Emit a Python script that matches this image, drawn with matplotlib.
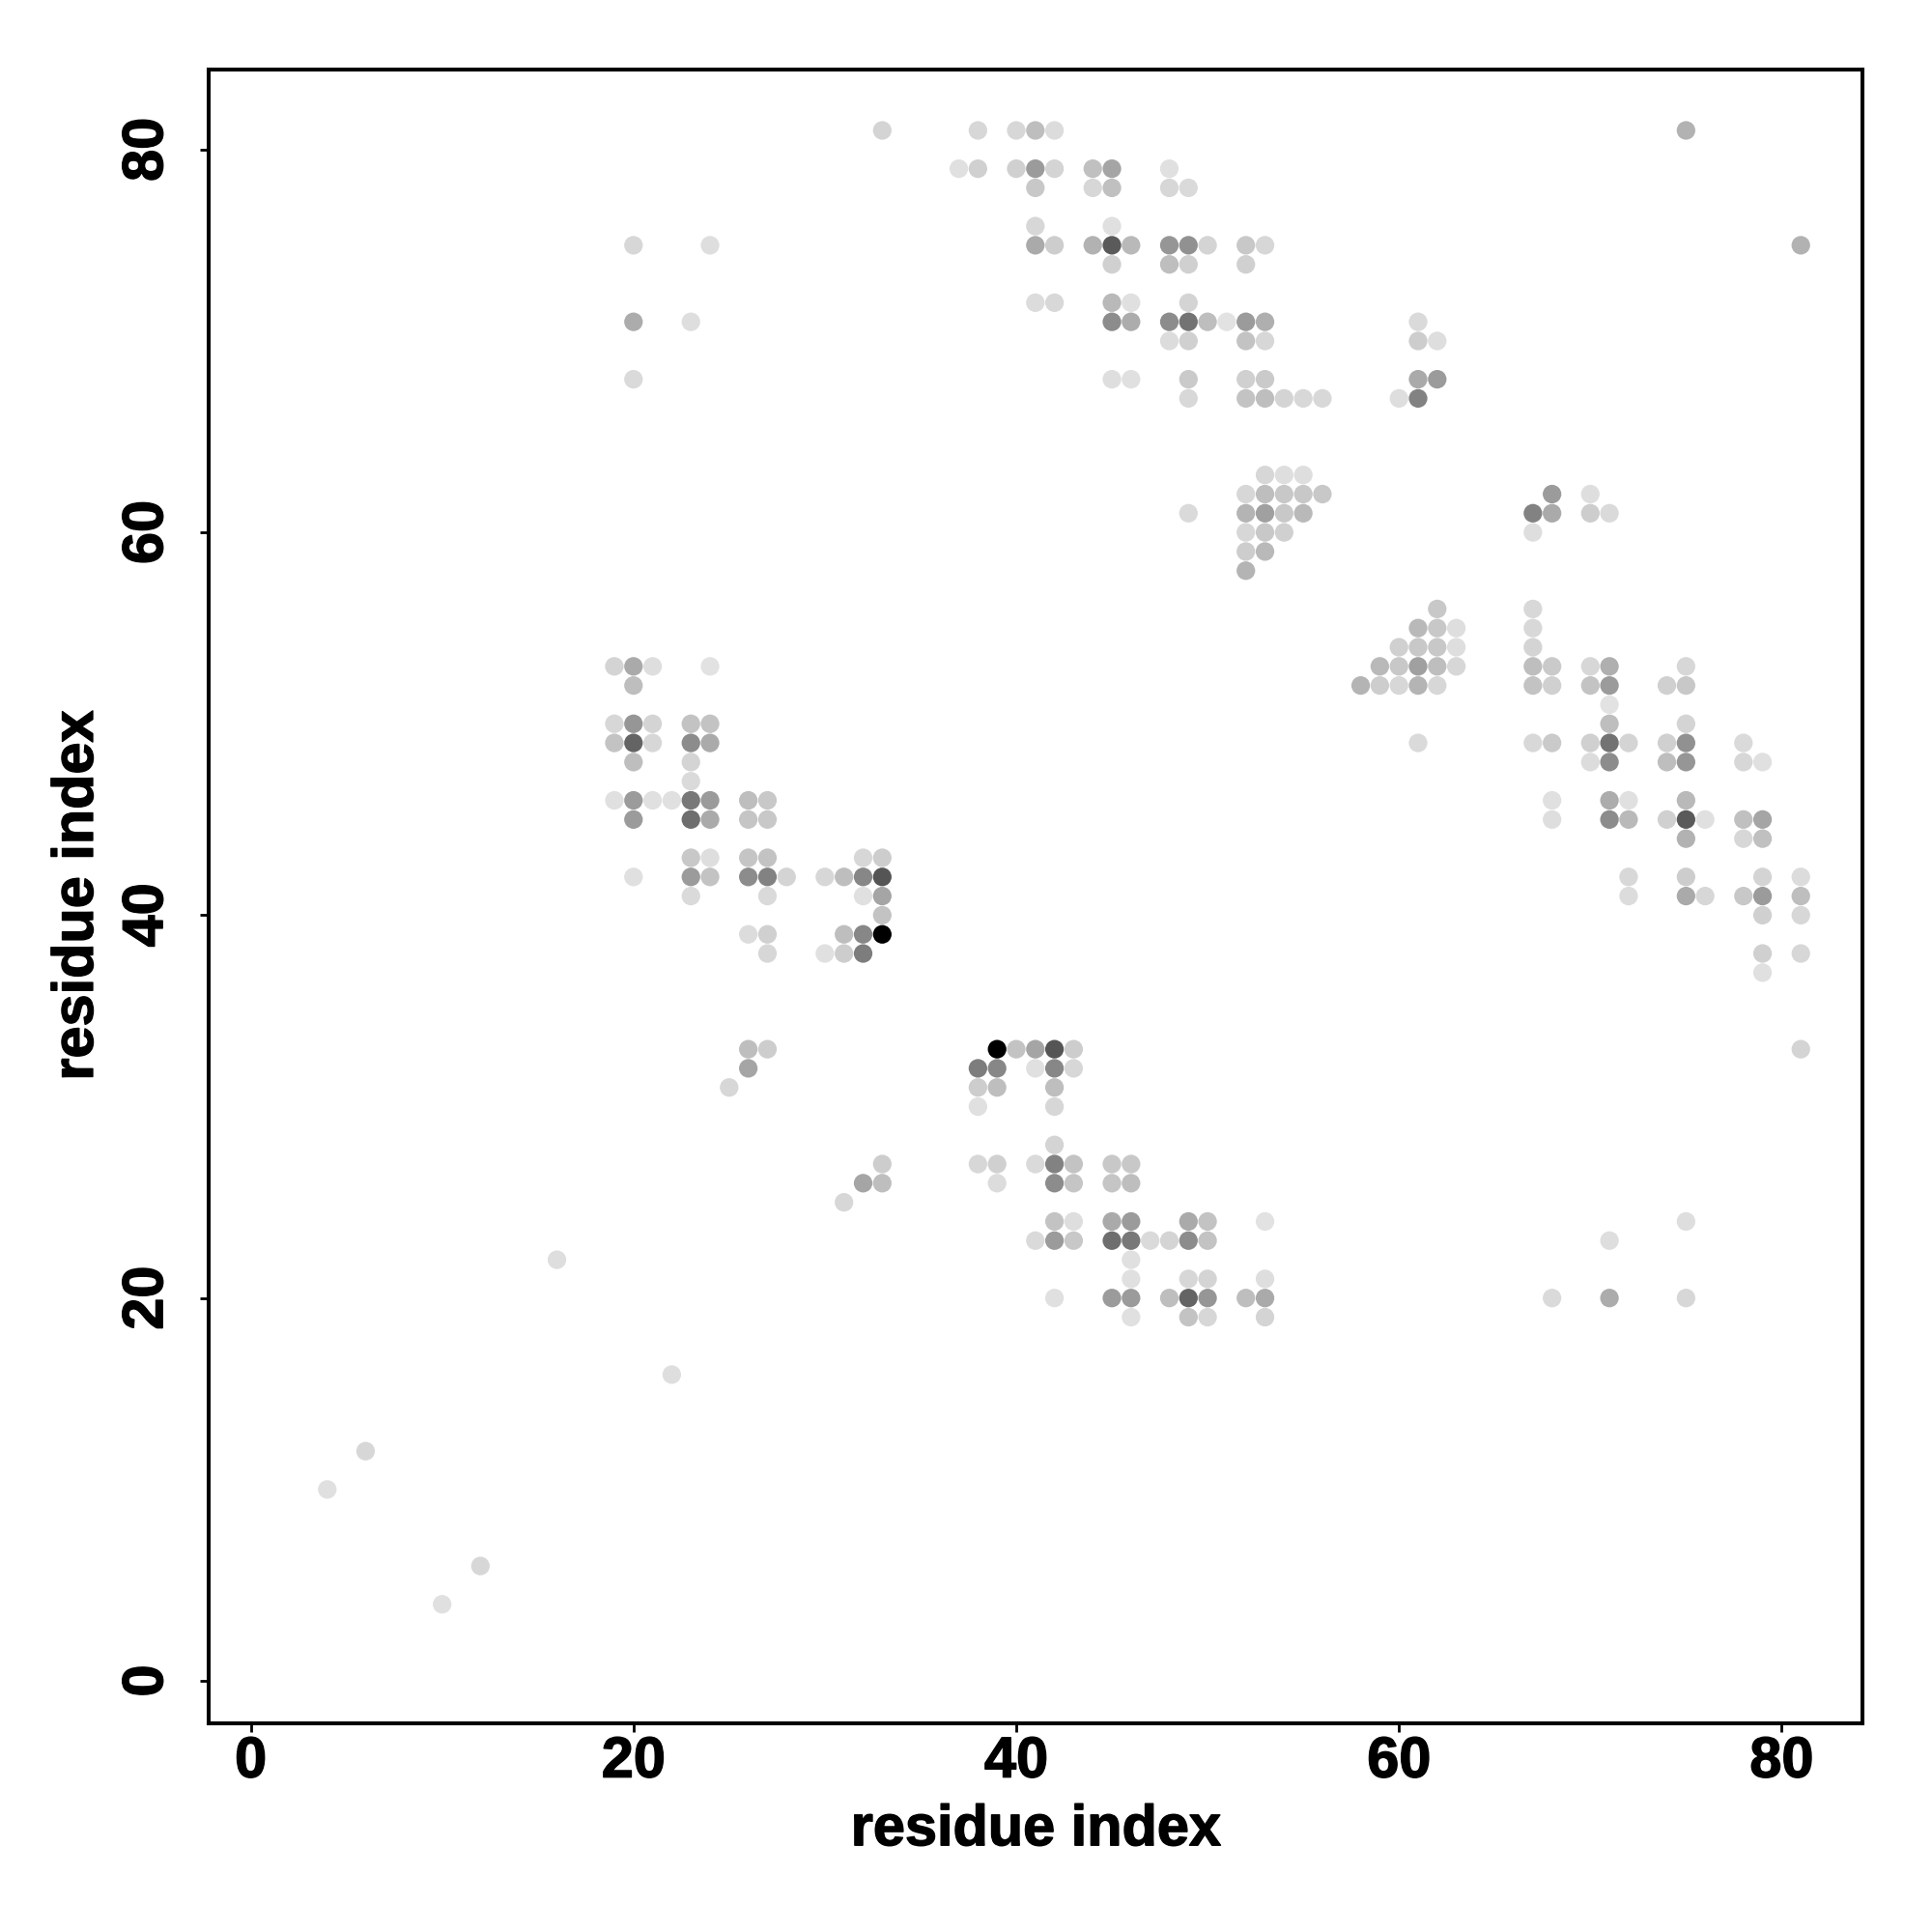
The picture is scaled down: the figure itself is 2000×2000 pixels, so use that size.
import matplotlib
matplotlib.use("Agg")
import matplotlib.pyplot as plt
import matplotlib.patheffects as pe
import numpy as np

# Contact pairs (i < j), one line per j value. The map is symmetric so each pair is drawn twice.
residue_j = (
    [10] + [12] + [22] + [31] + [32] + [33] * 2
    + [38] * 4 + [39] * 5 + [40] + [41] * 4 + [42] * 10 + [43] * 6
    + [45] * 5 + [46] * 8 + [47] + [48] * 2 + [49] * 5 + [50] * 5 + [52] + [53] * 4
    + [58] + [59] * 2 + [60] * 3 + [61] * 5 + [62] * 5 + [63] * 3
    + [67] * 8 + [68] * 8 + [70] * 6 + [71] * 11 + [72] * 5 + [74] * 4
    + [75] * 12 + [76] * 2 + [78] * 5 + [79] * 8 + [81] * 6
)
residue_i = [
    4, 6, 16, 25, 26, 26, 27,
    27, 30, 31, 32,
    26, 27, 31, 32, 33,
    33,
    23, 27, 32, 33,
    20, 23, 24, 26, 27, 28, 30, 31, 32, 33,
    23, 24, 26, 27, 32, 33,
    20, 23, 24, 26, 27,
    19, 20, 21, 22, 23, 24, 26, 27,
    23,
    20, 23,
    19, 20, 21, 23, 24,
    19, 20, 21, 23, 24,
    20,
    19, 20, 21, 24,
    52,
    52, 53,
    52, 53, 54,
    49, 52, 53, 54, 55,
    52, 53, 54, 55, 56,
    53, 54, 55,
    49, 52, 53, 54, 55, 56, 60, 61,
    20, 45, 46, 49, 52, 53, 61, 62,
    48, 49, 52, 53, 61, 62,
    20, 23, 45, 46, 48, 49, 50, 51, 52, 53, 61,
    41, 42, 45, 46, 49,
    45, 48, 49, 52,
    20, 24, 41, 42, 44, 45, 46, 48, 49, 50, 52, 53,
    41, 45,
    41, 44, 45, 48, 49,
    37, 38, 40, 41, 42, 44, 45, 48,
    33, 38, 40, 41, 42, 75,
]
# gray value of each dot, 0 = black, 255 = white
gray_level = [
    224, 215, 222, 215, 165, 190, 205,
    215, 224, 205, 125,
    220, 208, 190, 135, 0,
    195,
    218, 218, 224, 165,
    224, 155, 195, 140, 130, 212, 215, 190, 135, 85,
    200, 222, 197, 195, 215, 205,
    155, 110, 170, 197, 200,
    224, 155, 224, 224, 120, 155, 190, 200,
    218,
    190, 212,
    195, 100, 215, 140, 170,
    215, 150, 212, 195, 195,
    190,
    212, 170, 222, 226,
    180,
    205, 185,
    215, 200, 208,
    218, 180, 160, 200, 185,
    215, 190, 200, 200, 200,
    215, 222, 222,
    216, 195, 190, 212, 216, 216, 222, 130,
    218, 222, 224, 202, 208, 202, 170, 155,
    220, 208, 195, 215, 205, 222,
    172, 222, 140, 172, 140, 115, 190, 226, 155, 175, 218,
    220, 216, 185, 224, 212,
    208, 190, 208, 208,
    215, 222, 170, 205, 178, 90, 185, 150, 145, 212, 200, 215,
    215, 224,
    200, 215, 192, 215, 218,
    224, 208, 208, 155, 212, 192, 165, 224,
    212, 215, 215, 190, 220, 178,
]
ticks = [0, 20, 40, 60, 80]

plt.rcParams["font.family"] = ["Liberation Sans", "DejaVu Sans"]
plt.rcParams["font.weight"] = "bold"

x = np.array(residue_i + list(residue_j))
y = np.array(list(residue_j) + residue_i)
shade = np.array(gray_level + gray_level)

fig = plt.figure(figsize=(10, 10), dpi=200)
ax = fig.add_axes([0.108, 0.1082, 0.8558, 0.8560])

ax.scatter(x, y, c=shade, cmap="gray", vmin=0, vmax=255, s=48, linewidths=0, zorder=3)

ax.set_xlim(-2.2, 84.2)
ax.set_ylim(-2.2, 84.2)
ax.set_xticks(ticks)
ax.set_yticks(ticks)
ax.tick_params(axis="both", length=3.2, width=1.0, labelsize=21.4)
ax.tick_params(axis="x", pad=1.5)
ax.tick_params(axis="y", pad=9.7)
for label in ax.get_yticklabels():
    label.set_rotation(90)
    label.set_verticalalignment("center")
for spine in ax.spines.values():
    spine.set_linewidth(1.45)

ax.set_xlabel("residue index", fontsize=21.4, fontweight="bold", labelpad=5.6)
ax.set_ylabel("residue index", fontsize=21.4, fontweight="bold", labelpad=6.2)

# the original lettering is a little heavier than Liberation Sans Bold
heavier = [pe.withStroke(linewidth=0.5, foreground="black")]
for text in ax.get_xticklabels() + ax.get_yticklabels() + [ax.xaxis.label, ax.yaxis.label]:
    text.set_path_effects(heavier)

fig.savefig("out.png", dpi=200)
